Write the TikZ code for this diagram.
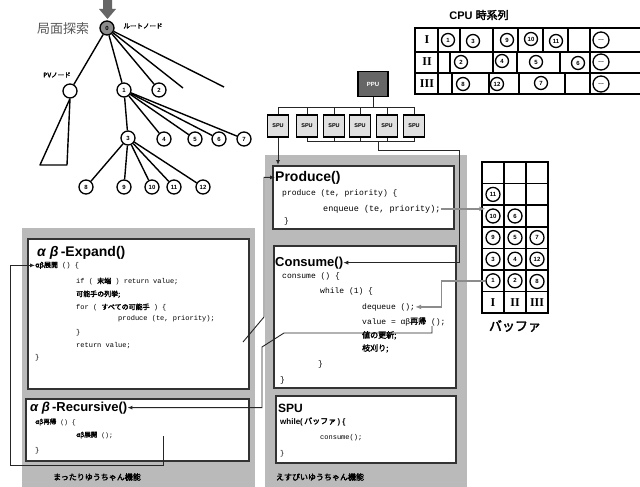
\documentclass[tikz,border=0pt]{standalone}
\usepackage{fontspec}
\setmainfont{Liberation Sans}
\newfontfamily\jp{Noto Sans CJK JP}[AutoFakeBold=2.5]
\newfontfamily\mono{Liberation Mono}
\newfontfamily\rmn{Liberation Serif}
\usetikzlibrary{arrows.meta}
\newcommand\fsz[1]{\fontsize{#1}{#1}\selectfont}
\newcommand\cj[1]{{\jp\bfseries #1}}
\begin{document}
\begin{tikzpicture}[x=1pt,y=-1pt,
  tnode/.style={circle,draw=black,line width=1.3pt,fill=white,minimum size=14pt,inner sep=0pt,font=\bfseries\fsz{6}},
  tedge/.style={draw=black,line width=1.4pt},
  panel/.style={fill=black!27},
  cbox/.style={draw=black!80,line width=1.8pt,fill=white,inner sep=0pt,anchor=north west},
  codel/.style={anchor=base west,inner sep=0pt},
  conn/.style={draw=black!85,line width=0.9pt},
  arr/.style={-{Latex[length=5pt,width=4pt]}},
  garrow/.style={draw=black!45,line width=1.4pt,-{Latex[length=6pt,width=5pt]}},
  gridl/.style={draw=black,line width=1.5pt},
  spubox/.style={draw=black,line width=1.3pt,fill=black!12,minimum width=21pt,minimum height=22pt,inner sep=0pt,font=\bfseries\fsz{5.5}},
  lbl/.style={inner sep=0pt},
]
\useasboundingbox (0,0) rectangle (640,487);
\fill[white] (0,0) rectangle (640,487);

% ---------------- tree ----------------
\fill[black!60] (103,0) -- (112,0) -- (112,9) -- (116,9) -- (107.5,19) -- (99,9) -- (103,9) -- cycle;
\node[lbl,font=\jp\fsz{13},text=black!65] (kyoku) at (63,29) {局面探索};
\node[lbl,font=\jp\bfseries\fsz{6.5}] (rootlbl) at (143,26) {ルートノード};
\node[lbl,font=\jp\bfseries\fsz{6.5}] (pvlbl) at (57,75) {PVノード};

\node[tnode,fill=black!45] (n0) at (107,28) {0};
\node[tnode] (pv) at (70,91) {};
\node[tnode] (n1) at (124,90) {1};
\node[tnode] (n2) at (159,90) {2};
\coordinate (c1) at (183,88);
\coordinate (c2) at (224,87);
\node[tnode] (n3) at (128,138) {3};
\node[tnode] (n4) at (164,139) {4};
\node[tnode] (n5) at (195,139) {5};
\node[tnode] (n6) at (219,139) {6};
\node[tnode] (n7) at (244,139) {7};
\node[tnode] (n8) at (86,187) {8};
\node[tnode] (n9) at (124,187) {9};
\node[tnode] (n10) at (152,187) {10};
\node[tnode] (n11) at (174,187) {11};
\node[tnode] (n12) at (203,187) {12};
\coordinate (tl) at (40,165);
\coordinate (tr) at (67,165);

\draw[tedge] (n0) -- (pv);
\draw[tedge] (n0) -- (n1);
\draw[tedge] (n0) -- (n2);
\draw[tedge] (n0) -- (c1);
\draw[tedge] (n0) -- (c2);
\draw[tedge,line join=round] (pv.south) -- (tl) -- (tr) -- (pv.south);
\foreach \t in {n3,n4,n5,n6,n7} \draw[tedge] (n1) -- (\t);
\foreach \t in {n8,n9,n10,n11,n12} \draw[tedge] (n3) -- (\t);

% ---------------- CPU table ----------------
\node[lbl,font=\bfseries\fsz{11}] (cputitle) at (479,15) {CPU \cj{時系列}};
\draw[gridl] (640,28) -- (415,28) -- (415,94) -- (640,94);
\draw[gridl] (415,52) -- (640,52);
\draw[gridl] (415,73) -- (640,73);
\draw[gridl] (438,28) -- (438,94);
\foreach \x in {460,493,518,543,568,590} \draw[gridl] (\x,28) -- (\x,52);
\foreach \x in {450,493,517,560,590} \draw[gridl] (\x,52) -- (\x,73);
\foreach \x in {452,489,519,565,590} \draw[gridl] (\x,73) -- (\x,94);
\node[lbl,font=\rmn\bfseries\fsz{12}] (r1) at (427,40) {I};
\node[lbl,font=\rmn\bfseries\fsz{12}] (r2) at (427,62) {II};
\node[lbl,font=\rmn\bfseries\fsz{12}] (r3) at (427,84) {III};
\node[tnode,minimum size=13pt] (t1) at (448,40) {1};
\node[tnode,minimum size=13pt] (t3) at (473,41) {3};
\node[tnode,minimum size=13pt] (t9) at (507,40) {9};
\node[tnode,minimum size=13pt] (t10) at (531,39) {10};
\node[tnode,minimum size=13pt] (t11) at (556,41) {11};
\node[tnode,minimum size=16pt] (td1) at (601,40) {…};
\node[tnode,minimum size=13pt] (t2) at (461,62) {2};
\node[tnode,minimum size=13pt] (t4) at (502,61) {4};
\node[tnode,minimum size=13pt] (t5) at (536,62) {5};
\node[tnode,minimum size=13pt] (t6) at (578,63) {6};
\node[tnode,minimum size=16pt] (td2) at (601,62) {…};
\node[tnode,minimum size=13pt] (t8) at (463,84) {8};
\node[tnode,minimum size=13pt] (t12) at (497,84) {12};
\node[tnode,minimum size=13pt] (t7) at (541,83) {7};
\node[tnode,minimum size=16pt] (td3) at (601,84) {…};

% ---------------- PPU / SPU ----------------
\node[draw=black,line width=1.3pt,fill=black!60,minimum width=30pt,minimum height=25pt,inner sep=0pt,font=\bfseries\fsz{6},text=white] (ppu) at (373,84) {PPU};
\node[spubox] (spu1) at (278,126) {SPU};
\node[spubox] (spu2) at (307,126) {SPU};
\node[spubox] (spu3) at (334,126) {SPU};
\node[spubox] (spu4) at (360,126) {SPU};
\node[spubox] (spu5) at (387,126) {SPU};
\node[spubox] (spu6) at (414,126) {SPU};
\draw[conn] (ppu.south) -- ++(0,11);
\draw[conn] (spu1.north) -- ++(0,-7) -| (spu6.north);
\foreach \i in {2,3,4,5} \draw[conn] (spu\i.north) -- ++(0,-7);
\draw[conn] (spu2.south) -- ++(0,4) -| (spu6.south);
\foreach \i in {3,4,5} \draw[conn] (spu\i.south) -- ++(0,4);

% ---------------- panels and boxes ----------------
\fill[panel] (22,228) rectangle (255,487);
\fill[panel] (265,155) rectangle (467,487);
\node[cbox,minimum width=221pt,minimum height=150pt] (ebox) at (27,238) {};
\node[cbox,minimum width=223pt,minimum height=62pt] (rbox) at (25,398) {};
\node[cbox,minimum width=181pt,minimum height=63pt] (pbox) at (272,165) {};
\node[cbox,minimum width=182pt,minimum height=142pt] (cbx) at (273,245) {};
\node[cbox,minimum width=180pt,minimum height=67pt] (sbox) at (275,395) {};

% Expand
\node[codel,font=\bfseries\fsz{14}] (etitle) at (37,256) {{\itshape α β}\,-Expand()};
\node[codel,font=\mono\fsz{7}] (el1) at (35,267.5) {\cj{αβ展開} () \{};
\node[codel,font=\mono\fsz{7}] (el2) at (76,283.5) {if ( \cj{末端} ) return value;};
\node[codel,font=\mono\fsz{7}] (el3) at (76,296.5) {\cj{可能手の列挙;}};
\node[codel,font=\mono\fsz{7}] (el4) at (76,309.5) {for ( \cj{すべての可能手} ) \{};
\node[codel,font=\mono\fsz{7}] (el5) at (118,320.5) {produce (te, priority);};
\node[codel,font=\mono\fsz{7}] (el6) at (76,334.5) {\}};
\node[codel,font=\mono\fsz{7}] (el7) at (76,347.5) {return value;};
\node[codel,font=\mono\fsz{7}] (el8) at (35,359.5) {\}};

% Recursive
\node[codel,font=\bfseries\fsz{13}] (rtitle) at (30,411) {{\itshape α β}\,-Recursive()};
\node[codel,font=\mono\fsz{6.5}] (rl1) at (35,424) {\cj{αβ再帰} () \{};
\node[codel,font=\mono\fsz{6.5}] (rl2) at (76,437) {\cj{αβ展開} ();};
\node[codel,font=\mono\fsz{7}] (rl3) at (35,452) {\}};

% Produce
\node[codel,font=\bfseries\fsz{14}] (ptitle) at (275,181) {Produce()};
\node[codel,font=\mono\fsz{8}] (pl1) at (282,195) {produce (te, priority) \{};
\node[codel,font=\mono\fsz{8.5}] (enq) at (323,211) {enqueue (te, priority);};
\node[codel,font=\mono\fsz{8}] (pl3) at (284,223) {\}};

% Consume
\node[codel,font=\bfseries\fsz{13}] (ctitle) at (275,266) {Consume()};
\node[codel,font=\mono\fsz{8}] (cl1) at (282,278) {consume () \{};
\node[codel,font=\mono\fsz{8}] (cl2) at (320,293) {while (1) \{};
\node[codel,font=\mono\fsz{8}] (deq) at (362,309) {dequeue ();};
\node[codel,font=\mono\fsz{8}] (val) at (362,324) {value = αβ\cj{再帰} ();};
\node[codel,font=\mono\fsz{8}] (cl5) at (362,338) {\cj{値の更新;}};
\node[codel,font=\mono\fsz{8}] (cl6) at (362,351) {\cj{枝刈り;}};
\node[codel,font=\mono\fsz{8}] (cl7) at (318,366) {\}};
\node[codel,font=\mono\fsz{8}] (cl8) at (280,382) {\}};

% SPU box
\node[codel,font=\bfseries\fsz{12}] (stitle) at (278,412) {SPU};
\node[codel,font=\bfseries\fsz{8}] (sl1) at (280,424) {while(\,\cj{バッファ}\,) \{};
\node[codel,font=\mono\fsz{7}] (sl2) at (320,439) {consume();};
\node[codel,font=\mono\fsz{7}] (sl3) at (280,455) {\}};

% labels
\node[lbl,font=\jp\bfseries\fsz{8}] (lab1) at (97,477) {まったりゆうちゃん機能};
\node[lbl,font=\jp\bfseries\fsz{8}] (lab2) at (320,477) {えすぴいゆうちゃん機能};

% ---------------- buffer ----------------
\draw[gridl] (482,162) rectangle (548,313.2);
\foreach \y in {183.6,205.2,226.8,248.4,270,291.6} \draw[gridl] (482,\y) -- (548,\y);
\draw[gridl] (504,162) -- (504,313.2);
\draw[gridl] (526,162) -- (526,313.2);
\node[tnode] (b11) at (493,194.4) {11};
\node[tnode] (b10) at (493,216) {10};
\node[tnode] (b9) at (493,237.6) {9};
\node[tnode] (b3) at (493,259.2) {3};
\node[tnode] (b1) at (493,280.8) {1};
\node[tnode] (b6) at (515,216) {6};
\node[tnode] (b5) at (515,237.6) {5};
\node[tnode] (b4) at (515,259.2) {4};
\node[tnode] (b2) at (515,280.8) {2};
\node[tnode] (b7) at (537,237.6) {7};
\node[tnode] (b12) at (537,259.2) {12};
\node[tnode] (b8) at (537,281.5) {8};
\node[lbl,font=\rmn\bfseries\fsz{12}] (bI) at (493,302.4) {I};
\node[lbl,font=\rmn\bfseries\fsz{12}] (bII) at (515,302.4) {II};
\node[lbl,font=\rmn\bfseries\fsz{12}] (bIII) at (537,302.4) {III};
\node[lbl,font=\jp\bfseries\fsz{13}] (blabel) at (515,326) {バッファ};

% ---------------- connectors ----------------
\draw[conn,arr] (spu1.south) -- (spu1.south |- pbox.north);
\coordinate (bd) at (378,141);
\coordinate (k1) at (459,150);
\draw[conn,arr] (bd) |- (k1) |- (ctitle.east);
\coordinate (ea) at (243,342);
\coordinate (eb) at (264,317);
\draw[conn,arr] (ea) -- (eb) |- (ptitle.west);
\coordinate (vt) at (432,326);
\coordinate (va) at (432,333);
\coordinate (vb) at (284,333);
\coordinate (vc) at (262,347);
\draw[conn,arr] (vt) -- (va) -- (vb) -- (vc) |- (rtitle.east);
\coordinate (ra) at (163,436);
\coordinate (rb) at (10,465);
\draw[conn,arr] (ra) |- (rb) |- (el1.west);
\draw[garrow] (enq.east) -- (enq.east -| b10.west);
\draw[garrow] (b1.west) -| ([xshift=26pt]deq.east) -- (deq.east);
\end{tikzpicture}
\end{document}
